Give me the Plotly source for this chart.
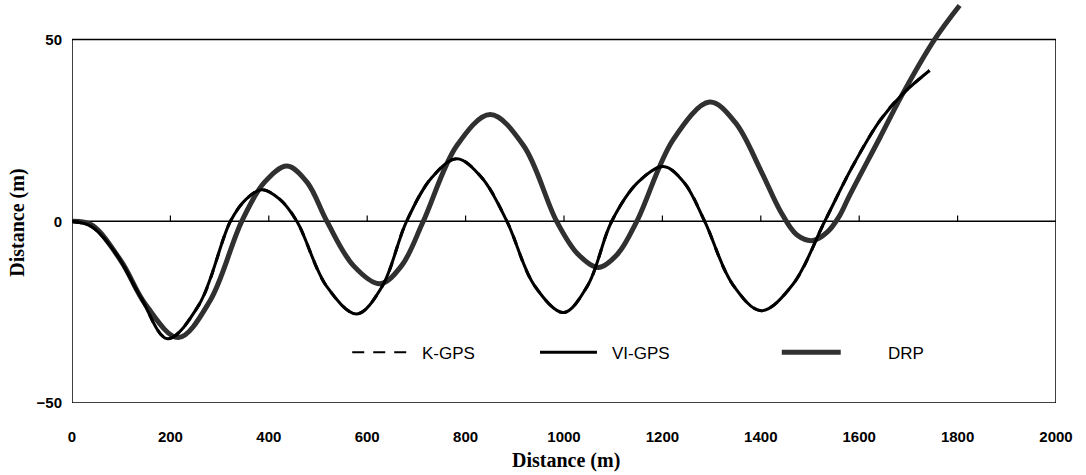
import plotly.graph_objects as go

# ---- data ----
series_names = ["K-GPS", "VI-GPS", "DRP"]

vi_x = [0, 40, 90, 140, 194, 258, 322, 354, 386, 422, 457, 518, 579, 630, 680, 731, 782, 833,
        884, 940, 999, 1048, 1097, 1150, 1202, 1244, 1286, 1343, 1401, 1465, 1530, 1586, 1642,
        1688, 1743]
vi_y = [0, -1.5, -9, -21, -32.3, -23, 0, 6.1, 8.7, 6.1, 0, -18, -25.5, -18, 0, 12, 17.2, 12,
        0, -17.7, -25.1, -17.7, 0, 10.7, 15.1, 10.7, 0, -17.4, -24.6, -17.4, 0, 15, 27.7,
        35, 41.5]

# K-GPS coincides with VI-GPS in the reference (hidden underneath)
k_x = list(vi_x)
k_y = list(vi_y)

drp_x = [0, 40, 100, 150, 216, 280, 345, 391, 437, 478, 518, 572, 626, 670, 714, 782, 850, 918,
         985, 1028, 1070, 1109, 1148, 1222, 1296, 1348, 1401, 1439, 1473, 1506, 1535, 1560,
         1580, 1642, 1688, 1753, 1804]
drp_y = [0, -1, -11, -23, -32, -22, 0, 10.7, 15.2, 10.7, 0, -12.2, -17.2, -12.2, 0, 20.8, 29.4,
         20.8, 0, -9, -12.7, -9, 0, 22.5, 32.8, 27.2, 13.7, 3, -3.7, -5.3, -3, 1.5,
         7, 23, 35, 50, 59.4]

x_ticks = [0, 200, 400, 600, 800, 1000, 1200, 1400, 1600, 1800, 2000]
y_ticks = [-50, 0, 50]
x_range = [0, 2000]
y_frame = [-50, 50]

DRP_COLOR = "#303030"
SMOOTH = 1.0

fig = go.Figure()
fig.add_trace(go.Scatter(x=drp_x, y=drp_y, mode="lines", name=series_names[2],
                         line=dict(color=DRP_COLOR, width=5, shape="spline", smoothing=SMOOTH)))
fig.add_trace(go.Scatter(x=k_x, y=k_y, mode="lines", name=series_names[0],
                         line=dict(color="black", width=3, dash="dash", shape="spline", smoothing=SMOOTH)))
fig.add_trace(go.Scatter(x=vi_x, y=vi_y, mode="lines", name=series_names[1],
                         line=dict(color="black", width=3, shape="spline", smoothing=SMOOTH)))

shapes = []
# frame
shapes.append(dict(type="rect", xref="x", yref="y", x0=x_range[0], x1=x_range[1],
                   y0=y_frame[0], y1=y_frame[1], line=dict(color="black", width=1.5),
                   layer="below"))
# zero line
shapes.append(dict(type="line", xref="x", yref="y", x0=x_range[0], x1=x_range[1], y0=0, y1=0,
                   line=dict(color="black", width=1.5), layer="below"))
# small tick marks on zero line
for t in x_ticks[1:-1]:
    shapes.append(dict(type="line", xref="x", yref="y", x0=t, x1=t, y0=0, y1=1.6,
                       line=dict(color="black", width=1.2), layer="below"))

# manual legend (positions in pixels, converted to paper coordinates)
W = 985.0
H = 402.7
def px_x(p):
    return (p - 71.5) / W
def px_y(p):
    return (H - p) / H

leg_y = px_y(352)
legend_items = [
    (series_names[0], 352, 408, 420, dict(color="black", width=2, dash="12px,9px")),
    (series_names[1], 540, 597, 610, dict(color="black", width=3)),
    (series_names[2], 782, 841, 886, dict(color=DRP_COLOR, width=5)),
]
annotations = []
for name, a, b, tx, ln in legend_items:
    shapes.append(dict(type="line", xref="paper", yref="paper", x0=px_x(a), x1=px_x(b),
                       y0=leg_y, y1=leg_y, line=ln))
    annotations.append(dict(xref="paper", yref="paper", x=px_x(tx), y=px_y(353),
                            text=name, showarrow=False, xanchor="left", yanchor="middle",
                            font=dict(family="Liberation Sans, Arial", size=17, color="black")))

# axis titles
title_font = dict(family="Liberation Serif, Times New Roman", size=20, color="black", weight="bold")
annotations.append(dict(xref="paper", yref="paper", x=px_x(566), y=px_y(460), text="Distance (m)",
                        showarrow=False, xanchor="center", yanchor="middle", font=title_font))
annotations.append(dict(xref="paper", yref="paper", x=px_x(17), y=px_y(223), text="Distance (m)",
                        showarrow=False, xanchor="center", yanchor="middle", textangle=-90,
                        font=title_font))

tick_font = dict(family="Liberation Sans, Arial", size=15, color="black", weight="bold")

fig.update_layout(
    width=1086, height=475,
    margin=dict(l=71.5, r=29.5, t=0, b=72.3),
    paper_bgcolor="white", plot_bgcolor="white",
    showlegend=False,
    shapes=shapes, annotations=annotations,
    xaxis=dict(range=x_range, tickvals=x_ticks, showgrid=False, zeroline=False, showline=False,
               ticks="", tickfont=tick_font, ticklabelstandoff=23, fixedrange=True),
    yaxis=dict(range=[-50, 60.9], tickvals=y_ticks, showgrid=False, zeroline=False, showline=False,
               ticks="", tickfont=tick_font, ticklabelstandoff=9, fixedrange=True),
)

fig.write_html("out.html", config={"displayModeBar": False},
               post_script="document.body.style.margin='0px';")
